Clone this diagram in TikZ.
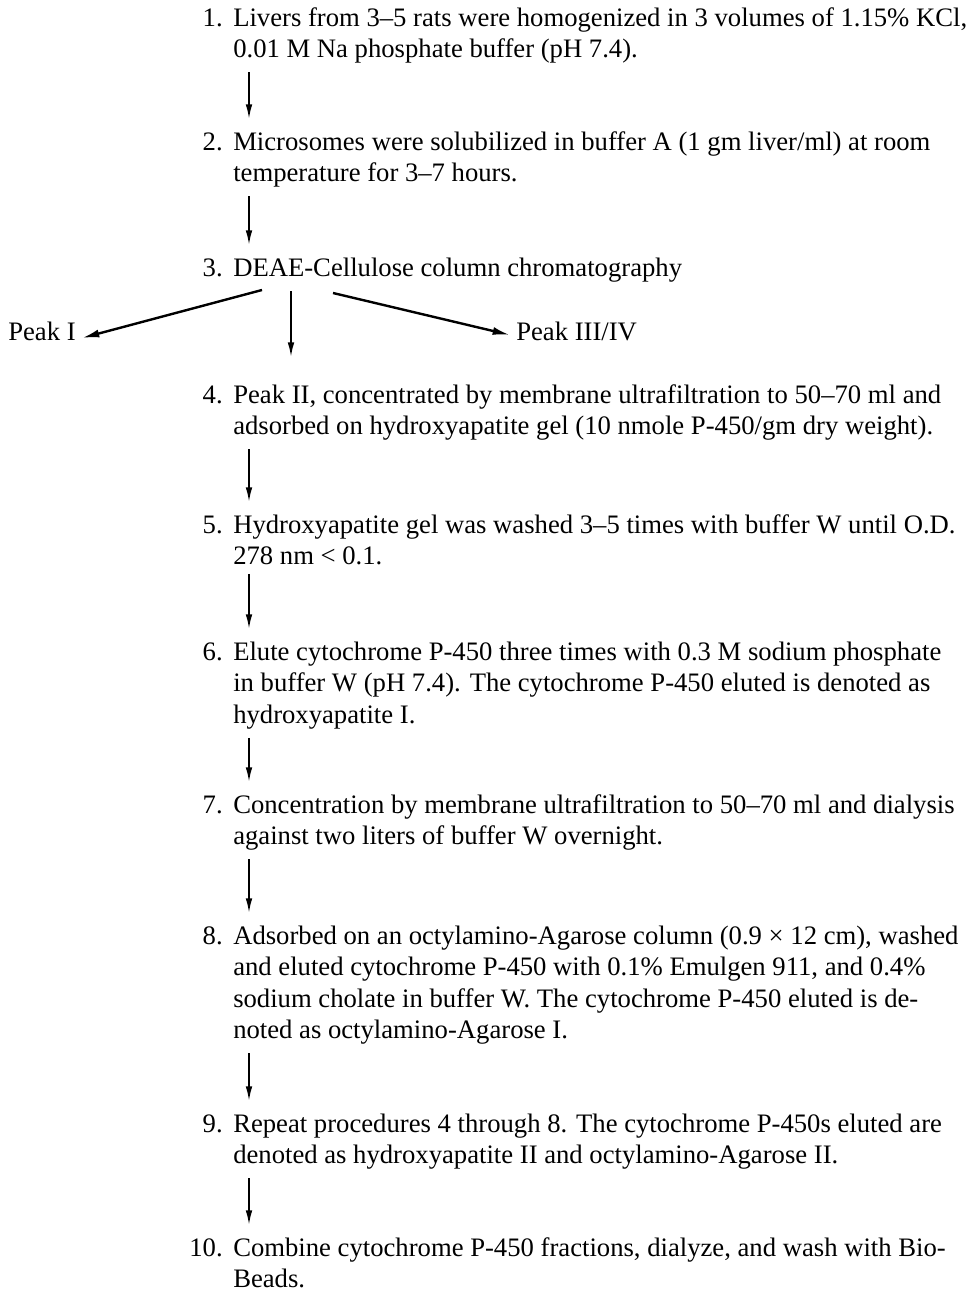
\documentclass[tikz,border=0pt]{standalone}
\usepackage{fontspec}
\setmainfont{Liberation Serif}
\usetikzlibrary{arrows.meta,positioning}
\newcommand{\stepfont}{\fontsize{20pt}{23.6pt}\selectfont}
\tikzset{
  steptext/.style={anchor=north west,inner sep=0pt,align=left,font=\stepfont},
  stepnum/.style={anchor=north east,inner sep=0pt,font=\stepfont},
  peak/.style={anchor=base west,inner sep=0pt,font=\stepfont},
  flow/.style={line width=1.3pt,-{Latex[length=11pt,width=5pt]},shorten <=6.4pt,shorten >=6.8pt},
  branch/.style={line width=1.8pt,-{Latex[length=13pt,width=6pt]}}
}

\begin{document}
\begin{tikzpicture}[x=0.75pt,y=-0.75pt]
\useasboundingbox (0,0) rectangle (973,1291);
% steps
\node[steptext] (s1) at (233,4) {\strut Livers from 3--5 rats were homogenized in 3 volumes of 1.15\% KCl,\\0.01 M Na phosphate buffer (pH 7.4).};
\node[steptext] (s2) at (233,128) {\strut Microsomes were solubilized in buffer A (1 gm liver/ml) at room\\temperature for 3--7 hours.};
\node[steptext] (s3) at (233,254) {\strut DEAE-Cellulose column chromatography};
\node[steptext] (s4) at (233,381) {\strut Peak II, concentrated by membrane ultrafiltration to 50--70 ml and\\adsorbed on hydroxyapatite gel (10 nmole P-450/gm dry weight).};
\node[steptext] (s5) at (233,511) {\strut Hydroxyapatite gel was washed 3--5 times with buffer W until O.D.\\278 nm < 0.1.};
\node[steptext] (s6) at (233,638) {\strut Elute cytochrome P-450 three times with 0.3 M sodium phosphate\\in buffer W (pH 7.4). The cytochrome P-450 eluted is denoted as\\hydroxyapatite I.};
\node[steptext] (s7) at (233,791) {\strut Concentration by membrane ultrafiltration to 50--70 ml and dialysis\\against two liters of buffer W overnight.};
\node[steptext] (s8) at (233,922) {\strut Adsorbed on an octylamino-Agarose column (0.9 × 12 cm), washed\\and eluted cytochrome P-450 with 0.1\% Emulgen 911, and 0.4\%\\sodium cholate in buffer W. The cytochrome P-450 eluted is de-\\noted as octylamino-Agarose I.};
\node[steptext] (s9) at (233,1110) {\strut Repeat procedures 4 through 8. The cytochrome P-450s eluted are\\denoted as hydroxyapatite II and octylamino-Agarose II.};
\node[steptext] (s10) at (233,1234) {\strut Combine cytochrome P-450 fractions, dialyze, and wash with Bio-\\Beads.};
% numbers
\foreach \i in {1,...,10}{
  \node[stepnum] (n\i) at ([shift={(-10,0)}]s\i.north west) {\strut\i.};
}
% side peaks
\node[peak] (peakI) at (8,340) {Peak I};
\node[peak] (peakIII) at (516,340) {Peak III/IV};
% arrows
\foreach \a/\b in {1/2,2/3,4/5,5/6,6/7,7/8,8/9,9/10}{
  \draw[flow] ([shift={(16,0)}]s\a.south west) -- ([shift={(16,0)}]s\b.north west);
}
\draw[flow,shorten <=4pt,shorten >=18pt] ([shift={(58,0)}]s3.south west) -- ([shift={(58,0)}]s4.north west);
\draw[branch] ([shift={(29,4)}]s3.south west) -- ([shift={(6,-2)}]peakI.base east);
\draw[branch] ([shift={(100,7)}]s3.south west) -- ([shift={(-6,-5)}]peakIII.base west);
\end{tikzpicture}
\end{document}
